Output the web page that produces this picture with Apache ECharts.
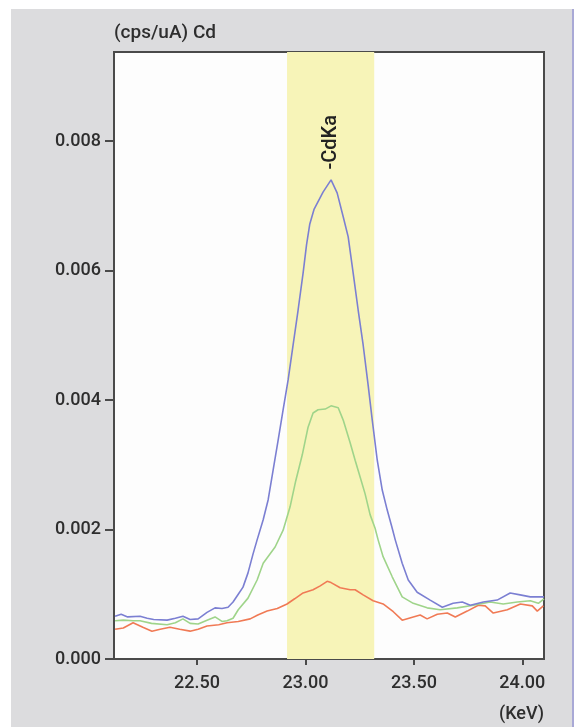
<!DOCTYPE html>
<html>
<head>
<meta charset="utf-8">
<script src="https://cdn.jsdelivr.net/npm/echarts@6/dist/echarts.min.js"></script>
<style>
  html, body { margin: 0; padding: 0; background: #fff; }
  #chart { width: 574px; height: 727px; }
</style>
</head>
<body>
<div id="chart"></div>
<script>
// energy (KeV) and intensity (cps/uA)
var blueKev = [22.122, 22.15, 22.18, 22.237, 22.27, 22.30, 22.362, 22.40, 22.435, 22.468, 22.505, 22.546, 22.583, 22.615, 22.643, 22.666, 22.69, 22.712, 22.735, 22.758, 22.777, 22.805, 22.828, 22.851, 22.874, 22.897, 22.920, 22.943, 22.966, 22.989, 23.005, 23.02, 23.04, 23.081, 23.118, 23.146, 23.174, 23.197, 23.220, 23.243, 23.266, 23.289, 23.308, 23.331, 23.354, 23.377, 23.400, 23.414, 23.446, 23.474, 23.515, 23.575, 23.631, 23.681, 23.723, 23.760, 23.820, 23.884, 23.944, 23.99, 24.037, 24.10];
var blueCps = [0.00066, 0.00069, 0.00065, 0.00066, 0.00063, 0.00061, 0.00060, 0.00063, 0.00066, 0.00061, 0.00062, 0.00072, 0.00079, 0.00078, 0.00080, 0.00088, 0.00100, 0.00111, 0.00133, 0.00162, 0.00184, 0.00215, 0.00246, 0.00292, 0.00338, 0.00385, 0.00431, 0.00485, 0.00539, 0.00596, 0.00640, 0.00672, 0.00695, 0.00721, 0.00740, 0.00720, 0.00683, 0.00652, 0.00596, 0.00539, 0.00485, 0.00423, 0.00369, 0.00307, 0.00261, 0.00230, 0.00202, 0.00184, 0.00148, 0.00122, 0.00103, 0.00091, 0.00080, 0.00086, 0.00088, 0.00083, 0.00088, 0.00091, 0.00102, 0.00099, 0.00096, 0.00096];

var greenKev = [22.122, 22.16, 22.205, 22.237, 22.29, 22.362, 22.40, 22.435, 22.468, 22.505, 22.546, 22.583, 22.615, 22.638, 22.666, 22.69, 22.735, 22.777, 22.805, 22.860, 22.897, 22.929, 22.955, 22.985, 23.012, 23.035, 23.058, 23.091, 23.118, 23.151, 23.174, 23.206, 23.229, 23.252, 23.275, 23.298, 23.321, 23.335, 23.358, 23.400, 23.446, 23.497, 23.561, 23.621, 23.70, 23.774, 23.852, 23.912, 23.977, 24.037, 24.074, 24.10];
var greenCps = [0.00059, 0.00060, 0.00059, 0.00059, 0.00055, 0.00053, 0.00056, 0.00062, 0.00055, 0.00054, 0.00060, 0.00065, 0.00058, 0.00059, 0.00063, 0.00076, 0.00094, 0.00122, 0.00148, 0.00173, 0.00199, 0.00235, 0.00275, 0.00315, 0.00358, 0.00380, 0.00385, 0.00386, 0.00391, 0.00388, 0.00369, 0.00334, 0.00307, 0.00281, 0.00255, 0.00223, 0.00202, 0.00184, 0.00158, 0.00127, 0.00096, 0.00086, 0.00079, 0.00076, 0.00079, 0.00083, 0.00088, 0.00085, 0.00088, 0.00090, 0.00086, 0.00093];

var redKev = [22.122, 22.16, 22.205, 22.25, 22.292, 22.33, 22.375, 22.42, 22.468, 22.505, 22.546, 22.60, 22.638, 22.69, 22.745, 22.78, 22.823, 22.87, 22.915, 22.95, 22.989, 23.035, 23.068, 23.100, 23.118, 23.160, 23.206, 23.229, 23.266, 23.312, 23.358, 23.405, 23.446, 23.497, 23.529, 23.561, 23.608, 23.654, 23.691, 23.746, 23.797, 23.829, 23.866, 23.931, 23.991, 24.046, 24.069, 24.097];
var redCps = [0.00046, 0.00048, 0.00056, 0.00049, 0.00043, 0.00046, 0.00049, 0.00046, 0.00043, 0.00046, 0.00051, 0.00053, 0.00056, 0.00058, 0.00062, 0.00068, 0.00074, 0.00078, 0.00085, 0.00093, 0.00102, 0.00107, 0.00113, 0.00120, 0.00118, 0.00110, 0.00107, 0.00107, 0.00099, 0.00090, 0.00085, 0.00073, 0.00060, 0.00065, 0.00068, 0.00062, 0.00069, 0.00071, 0.00065, 0.00074, 0.00083, 0.00082, 0.00071, 0.00076, 0.00085, 0.00082, 0.00074, 0.00082];

var xTicks = [22.5, 23.0, 23.5, 24.0];
var roiRange = [22.915, 23.317];
var peakName = '-CdKa';
var peakKev = 23.118;

function pairs(xs, ys) {
    var out = [];
    for (var i = 0; i < xs.length; i++) out.push([xs[i], ys[i]]);
    return out;
}

var font = 'Roboto, "DejaVu Sans", sans-serif';
var txt = { fontSize: 18, fontWeight: 500, color: '#2e2e2e', fontFamily: font };

var chart = echarts.init(document.getElementById('chart'));
var option = {
    animation: false,
    graphic: [
        { type: 'rect', left: 11, top: 9, shape: { width: 561, height: 718 }, style: { fill: '#dcdcde' }, z: -10 },
        { type: 'rect', left: 572, top: 9, shape: { width: 2, height: 718 }, style: { fill: '#a9a9d6' }, z: -10 }
    ],
    grid: {
        left: 114, right: 30, top: 52, bottom: 68,
        show: true, backgroundColor: '#fdfdfd', borderColor: '#4a4a4a', borderWidth: 2
    },
    xAxis: {
        type: 'value',
        min: 22.117, max: 24.1,
        name: '(KeV)',
        nameLocation: 'end',
        nameGap: 0,
        nameTextStyle: Object.assign({ align: 'right', verticalAlign: 'top', padding: [46, 0, 0, 0] }, txt),
        splitLine: { show: false },
        axisLine: { lineStyle: { color: '#4a4a4a', width: 2 } },
        axisTick: { customValues: xTicks, length: 6, lineStyle: { color: '#4a4a4a', width: 2 } },
        axisLabel: Object.assign({
            customValues: xTicks, margin: 15,
            formatter: function (v) { return v.toFixed(2); }
        }, txt)
    },
    yAxis: {
        type: 'value',
        min: 0, max: 0.009375, interval: 0.002,
        name: '(cps/uA) Cd',
        nameLocation: 'end',
        nameGap: 9,
        nameTextStyle: Object.assign({ align: 'left', verticalAlign: 'bottom' }, txt, { fontSize: 19 }),
        splitLine: { show: false },
        axisLine: { show: true, lineStyle: { color: '#4a4a4a', width: 2 } },
        axisTick: { show: true, length: 9, lineStyle: { color: '#4a4a4a', width: 2 } },
        axisLabel: Object.assign({
            margin: 13, showMaxLabel: false,
            formatter: function (v) { return v.toFixed(3); }
        }, txt)
    },
    series: [
        {
            type: 'line', data: [], z: 1, silent: true,
            markArea: {
                silent: true,
                itemStyle: { color: '#f7f4b8', opacity: 1 },
                data: [[{ xAxis: roiRange[0] }, { xAxis: roiRange[1] }]]
            },
            markPoint: {
                silent: true,
                symbol: 'circle', symbolSize: 0,
                label: Object.assign({ show: true, position: 'inside', rotate: 90, formatter: peakName }, txt, { color: '#222', fontSize: 20 }),
                data: [{ coord: [peakKev, 0.00798] }]
            }
        },
        {
            name: 'red', type: 'line', z: 3, showSymbol: false,
            lineStyle: { color: '#f07a55', width: 1.6 },
            data: pairs(redKev, redCps)
        },
        {
            name: 'green', type: 'line', z: 3, showSymbol: false,
            lineStyle: { color: '#9fd48a', width: 1.6 },
            data: pairs(greenKev, greenCps)
        },
        {
            name: 'blue', type: 'line', z: 4, showSymbol: false,
            lineStyle: { color: '#7b7fd2', width: 1.6 },
            data: pairs(blueKev, blueCps)
        }
    ]
};
chart.setOption(option);
</script>
</body>
</html>
